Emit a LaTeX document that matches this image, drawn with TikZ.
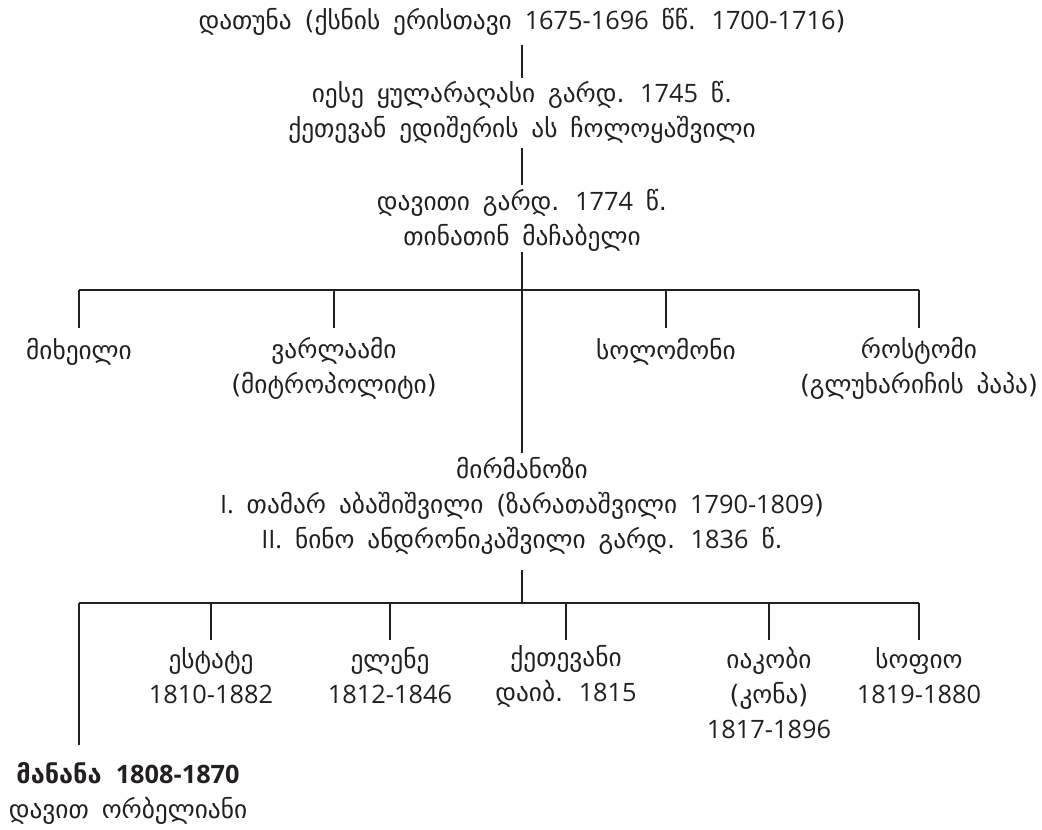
\documentclass[tikz,border=0pt]{standalone}
\usepackage{fontspec}
\setmainfont[WordSpace=1.6]{DejaVu Sans}
\newfontfamily\numfont{Open Sans}
\newcommand{\nm}[1]{{\numfont #1}}
\definecolor{ink}{HTML}{231F20}
\begin{document}
\begin{tikzpicture}[x=0.75pt,y=-0.75pt,
  lbl/.style={inner sep=0pt, align=center, text=ink, font=\fontsize{19}{26.25}\selectfont},
  conn/.style={draw=ink, line width=2.2pt}]
\useasboundingbox (0,0) rectangle (1042,829);

% nodes
\node[lbl] (datuna) at (522,22) {დათუნა (ქსნის ერისთავი \nm{1675-1696} წწ. \nm{1700-1716})};
\node[lbl] (iese) at (522,112.5) {იესე ყულარაღასი გარდ. \nm{1745} წ.\\ქეთევან ედიშერის ას ჩოლოყაშვილი};
\node[lbl] (daviti) at (522,220) {დავითი გარდ. \nm{1774} წ.\\თინათინ მაჩაბელი};

\node[lbl] (mixeili) at (79,352) {მიხეილი};
\node[lbl] (varlaami) at (334,368) {ვარლაამი\\(მიტროპოლიტი)};
\node[lbl] (solomoni) at (666,352) {სოლომონი};
\node[lbl] (rostomi) at (919,368) {როსტომი\\(გლუხარიჩის პაპა)};

\node[lbl] (mirmanozi) at (522,506) {მირმანოზი\\\nm{I.} თამარ აბაშიშვილი (ზარათაშვილი \nm{1790-1809})\\\nm{II.} ნინო ანდრონიკაშვილი გარდ. \nm{1836} წ.};

\node[lbl] (estate) at (211,676) {ესტატე\\\nm{1810-1882}};
\node[lbl] (elene) at (390,676) {ელენე\\\nm{1812-1846}};
\node[lbl] (qetevani) at (566,676) {ქეთევანი\\დაიბ. \nm{1815}};
\node[lbl] (iakobi) at (769,693) {იაკობი\\(კონა)\\\nm{1817-1896}};
\node[lbl] (sofio) at (919,676) {სოფიო\\\nm{1819-1880}};
\node[lbl] (manana) at (128,793) {\textbf{მანანა \nm{1808-1870}}\\დავით ორბელიანი};

% rows where connectors start and end
\coordinate (r1) at (0,45);
\coordinate (r2) at (0,78);
\coordinate (r3) at (0,148);
\coordinate (r4) at (0,185);
\coordinate (r5) at (0,252);
\coordinate (tb) at (0,290);
\coordinate (r6) at (0,328);
\coordinate (r7) at (0,453);
\coordinate (r8) at (0,570);
\coordinate (bb) at (0,603);
\coordinate (r9) at (0,640);
\coordinate (r10) at (0,745);

% trunk
\draw[conn] (datuna |- r1) -- (iese |- r2);
\draw[conn] (iese |- r3) -- (daviti |- r4);
\draw[conn] (daviti |- r5) -- (mirmanozi |- r7);
\draw[conn] (mirmanozi |- r8) -- (mirmanozi |- bb);

% upper bar and drops
\draw[conn] (mixeili |- tb) -- (rostomi |- tb);
\foreach \n in {mixeili,varlaami,solomoni,rostomi}
  \draw[conn] (\n |- tb) -- (\n |- r6);

% lower bar and drops
\draw[conn] (mixeili |- bb) -- (sofio |- bb);
\draw[conn] (mixeili |- bb) -- (mixeili |- r10);
\foreach \n in {estate,elene,qetevani,iakobi,sofio}
  \draw[conn] (\n |- bb) -- (\n |- r9);
\end{tikzpicture}
\end{document}
